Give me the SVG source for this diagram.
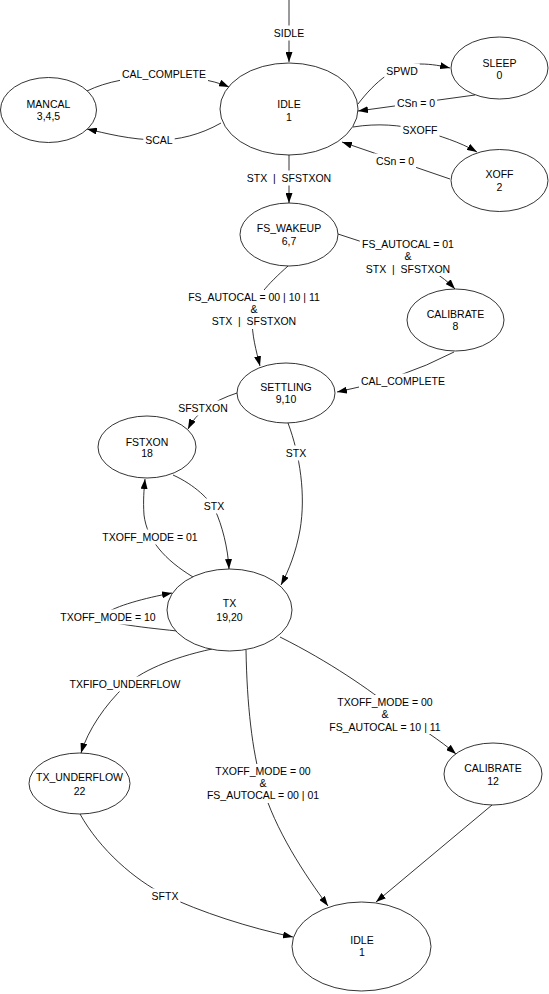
<svg xmlns="http://www.w3.org/2000/svg" width="549" height="994" viewBox="0 0 549 994">
<style>
  .bg { fill: #fff; }
  .lb { fill: #fff; stroke: none; }
  .edge { fill: none; stroke: #000; stroke-width: 0.8; marker-end: url(#ah); }
  .node ellipse { fill: #fff; stroke: #000; stroke-width: 0.8; }
  text { font-family: "Liberation Sans", Arial, sans-serif; font-size: 10.5px; fill: #000; text-anchor: middle; }
</style>
<defs>
  <marker id="ah" viewBox="0 0 10 7" refX="10" refY="3.5" markerWidth="10" markerHeight="7" markerUnits="userSpaceOnUse" orient="auto">
    <path d="M0,0 L10,3.5 L0,7 z" fill="#000"/>
  </marker>
</defs>
<rect class="bg" x="0" y="0" width="549" height="994"/>

<g id="connectors">
  <path class="edge" d="M289,0 L289,62"/>
  <path class="edge" d="M289,155 L289,203"/>
  <path class="edge" d="M358,104 C375,82 395,64 420,64 C432,64 442,66 450,68"/>
  <path class="edge" d="M475,95 L358,111"/>
  <path class="edge" d="M353,127 C378,123 400,125 420,130 C440,136 460,142 477,152"/>
  <path class="edge" d="M450,179 L342,142"/>
  <path class="edge" d="M87,91 C125,72 195,72 229,87"/>
  <path class="edge" d="M221,123 C200,135 178,140 159,140 C130,140 105,133 87,129"/>
  <path class="edge" d="M338,234 C380,248 430,262 455,289"/>
  <path class="edge" d="M288,266 C268,284 252,300 252,318 C252,336 256,350 260,366"/>
  <path class="edge" d="M454,352 Q400,380 337,392"/>
  <path class="edge" d="M237,393 Q200,405 188,429"/>
  <path class="edge" d="M288,423 C300,455 306,495 300,530 C296,552 289,570 281,585"/>
  <path class="edge" d="M173,475 C195,485 210,500 215,510 C222,525 228,548 229,569"/>
  <path class="edge" d="M193,577 C165,560 147,540 144,515 C143,500 144,490 145,479"/>
  <path class="edge" d="M177,631 C130,626 95,622 105,614 C115,606 145,598 172,593"/>
  <path class="edge" d="M212,649 C170,658 140,672 125,686 C105,705 88,730 81,753"/>
  <path class="edge" d="M246,650 C247,705 252,750 262,785 C275,830 305,875 328,906"/>
  <path class="edge" d="M280,637 C330,662 370,690 395,710 C420,728 440,740 456,754"/>
  <path class="edge" d="M492,805 L376,902"/>
  <path class="edge" d="M80,814 C100,850 135,880 165,895 C200,912 250,928 293,937"/>

  <rect class="lb" x="271.8" y="25.5" width="34.4" height="15"/>
  <rect class="lb" x="244.8" y="170.5" width="88.4" height="15"/>
  <rect class="lb" x="384.25" y="63.5" width="35.5" height="15"/>
  <rect class="lb" x="394.9" y="95.5" width="42.2" height="15"/>
  <rect class="lb" x="400.5" y="122.5" width="39" height="15"/>
  <rect class="lb" x="373.9" y="153.5" width="42.2" height="15"/>
  <rect class="lb" x="120" y="66.5" width="88" height="15"/>
  <rect class="lb" x="143.3" y="132.5" width="31.4" height="15"/>
  <rect class="lb" x="359.75" y="237" width="96.5" height="39"/>
  <rect class="lb" x="185.5" y="290" width="137" height="39"/>
  <rect class="lb" x="359" y="373.5" width="88" height="15"/>
  <rect class="lb" x="176.2" y="400.5" width="53.6" height="15"/>
  <rect class="lb" x="283.8" y="445.5" width="24.4" height="15"/>
  <rect class="lb" x="201.8" y="498.5" width="24.4" height="15"/>
  <rect class="lb" x="100.3" y="529.5" width="99.4" height="15"/>
  <rect class="lb" x="58.3" y="609.5" width="99.4" height="15"/>
  <rect class="lb" x="67.6" y="676.5" width="114.8" height="15"/>
  <rect class="lb" x="204.65" y="764" width="116.7" height="39"/>
  <rect class="lb" x="326.65" y="695" width="116.7" height="39"/>
  <rect class="lb" x="149.6" y="888.5" width="30.8" height="15"/>

  <text x="289" y="36.8">SIDLE</text>
  <text x="289" y="181.8" xml:space="preserve">STX  |  SFSTXON</text>
  <text x="402" y="74.8">SPWD</text>
  <text x="416" y="106.8">CSn = 0</text>
  <text x="420" y="133.8">SXOFF</text>
  <text x="395" y="164.8">CSn = 0</text>
  <text x="164" y="77.8">CAL_COMPLETE</text>
  <text x="159" y="143.8">SCAL</text>
  <text x="408" y="247.8">FS_AUTOCAL = 01</text>
  <text x="408" y="260.3">&amp;</text>
  <text x="408" y="272.8" xml:space="preserve">STX  |  SFSTXON</text>
  <text x="254" y="300.8">FS_AUTOCAL = 00 | 10 | 11</text>
  <text x="254" y="313.3">&amp;</text>
  <text x="254" y="324.8" xml:space="preserve">STX  |  SFSTXON</text>
  <text x="403" y="384.8">CAL_COMPLETE</text>
  <text x="203" y="411.8">SFSTXON</text>
  <text x="296" y="456.8">STX</text>
  <text x="214" y="509.8">STX</text>
  <text x="150" y="540.8">TXOFF_MODE = 01</text>
  <text x="108" y="620.8">TXOFF_MODE = 10</text>
  <text x="125" y="687.8">TXFIFO_UNDERFLOW</text>
  <text x="263" y="774.8">TXOFF_MODE = 00</text>
  <text x="263" y="787.3">&amp;</text>
  <text x="263" y="798.8">FS_AUTOCAL = 00 | 01</text>
  <text x="385" y="705.8">TXOFF_MODE = 00</text>
  <text x="385" y="718.3">&amp;</text>
  <text x="385" y="730.8">FS_AUTOCAL = 10 | 11</text>
  <text x="165" y="899.8">SFTX</text>
</g>

<g id="node-idle-top" class="node">
  <ellipse cx="289" cy="109" rx="69" ry="46"/>
  <text x="289" y="107.8">IDLE</text>
  <text x="289" y="120.8">1</text>
</g>
<g id="node-mancal" class="node">
  <ellipse cx="48.5" cy="110" rx="48" ry="32.5"/>
  <text x="48.5" y="107.8">MANCAL</text>
  <text x="48.5" y="119.8">3,4,5</text>
</g>
<g id="node-sleep" class="node">
  <ellipse cx="499.5" cy="68" rx="48.5" ry="31"/>
  <text x="499.5" y="66.8">SLEEP</text>
  <text x="499.5" y="78.8">0</text>
</g>
<g id="node-xoff" class="node">
  <ellipse cx="499.5" cy="180.5" rx="48.5" ry="31"/>
  <text x="499.5" y="177.8">XOFF</text>
  <text x="499.5" y="190.8">2</text>
</g>
<g id="node-fs-wakeup" class="node">
  <ellipse cx="289" cy="234.5" rx="49" ry="31.5"/>
  <text x="289" y="231.8">FS_WAKEUP</text>
  <text x="289" y="244.8">6,7</text>
</g>
<g id="node-calibrate-8" class="node">
  <ellipse cx="455.5" cy="320" rx="48.5" ry="31"/>
  <text x="455.5" y="317.8">CALIBRATE</text>
  <text x="455.5" y="329.8">8</text>
</g>
<g id="node-settling" class="node">
  <ellipse cx="286" cy="393" rx="49" ry="30"/>
  <text x="286" y="390.8">SETTLING</text>
  <text x="286" y="402.8">9,10</text>
</g>
<g id="node-fstxon" class="node">
  <ellipse cx="147" cy="447" rx="49" ry="31"/>
  <text x="147" y="445.8">FSTXON</text>
  <text x="147" y="456.8">18</text>
</g>
<g id="node-tx" class="node">
  <ellipse cx="229.5" cy="610" rx="62.5" ry="41"/>
  <text x="229.5" y="606.8">TX</text>
  <text x="229.5" y="620.8">19,20</text>
</g>
<g id="node-tx-underflow" class="node">
  <ellipse cx="79.5" cy="783.5" rx="50.5" ry="30.5"/>
  <text x="79.5" y="780.8">TX_UNDERFLOW</text>
  <text x="79.5" y="794.8">22</text>
</g>
<g id="node-calibrate-12" class="node">
  <ellipse cx="493" cy="774" rx="49" ry="31"/>
  <text x="493" y="771.8">CALIBRATE</text>
  <text x="493" y="784.8">12</text>
</g>
<g id="node-idle-bottom" class="node">
  <ellipse cx="361.5" cy="946.5" rx="69.5" ry="44.5"/>
  <text x="362" y="943.8">IDLE</text>
  <text x="362" y="955.8">1</text>
</g>
</svg>
